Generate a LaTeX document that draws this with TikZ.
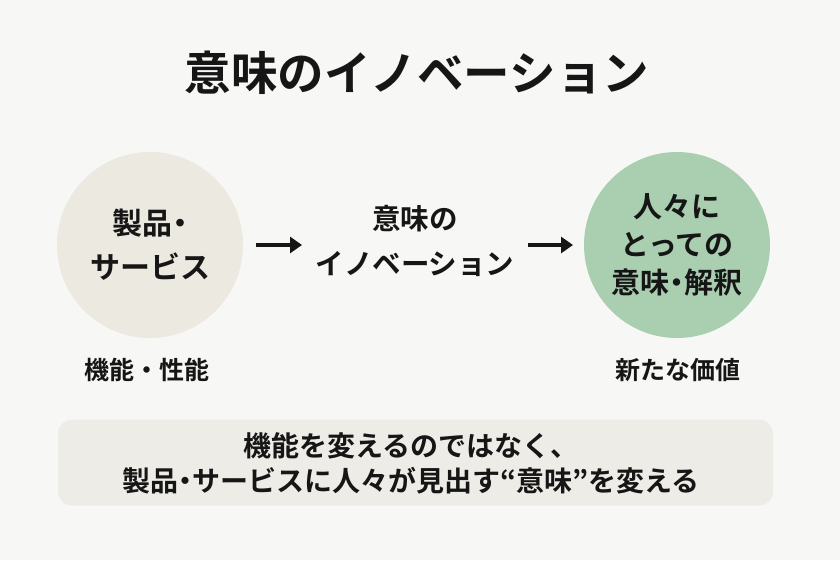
\documentclass[tikz,border=0pt]{standalone}
\usepackage{fontspec}
\setmainfont{Noto Sans CJK JP}[BoldFont={Noto Sans CJK JP Bold}]
\newfontfamily\jpb{Noto Sans CJK JP Bold}
\newfontfamily\jpp{Noto Sans CJK JP Bold}[RawFeature=+palt]
\newcommand{\pr}[1]{{\jpp #1}}
\usetikzlibrary{arrows.meta}
\definecolor{bgc}{HTML}{F7F7F5}
\definecolor{beige}{HTML}{ECE9E1}
\definecolor{greenc}{HTML}{AACFB0}
\definecolor{boxc}{HTML}{EDECE6}
\definecolor{ink}{HTML}{161616}
\begin{document}
\begin{tikzpicture}[x=1pt,y=-1pt,
  every node/.style={text=ink,font=\jpb},
  bubble/.style={circle,minimum size=186pt,inner sep=0pt,align=center},
  flow/.style={line width=4pt,draw=ink,-{Triangle[length=12pt,width=16pt]}},
  caption/.style={font=\jpb\fontsize{25}{30}\selectfont}]
\fill[bgc] (0,0) rectangle (840,560);
\useasboundingbox (0,0) rectangle (840,560);
\node (title) at (417,73) {\fontsize{46.5}{54}\selectfont 意味のイノベーション};
\node[bubble,fill=beige,font=\jpb\fontsize{30}{44}\selectfont] (prod) at (150,245) {製品\pr{・}\\サービス};
\node[bubble,fill=greenc,font=\jpb\fontsize{29}{38}\selectfont] (mean) at (677,245) {人々に\\とっての\\意味\pr{・}解釈};
\node[align=center,font=\jpb\fontsize{28.5}{45}\selectfont] (mid) at (415,241) {意味の\\イノベーション};
\coordinate (a1s) at (256,245);
\coordinate (a1e) at (302,245);
\coordinate (a2s) at (528,245);
\coordinate (a2e) at (573,245);
\draw[flow] (a1s) -- (a1e);
\draw[flow] (a2s) -- (a2e);
\node[caption] (func) at (147,370) {機能・性能};
\node[caption] (val) at (678,370) {新たな価値};
\node[fill=boxc,rounded corners=14pt,minimum width=715pt,minimum height=86pt,inner sep=0pt] (box) at (415.5,462.5) {};
\node[align=center,font=\jpb\fontsize{28}{35}\selectfont] (msg) at (411,463) {機能を変えるのではなく、\\製品\pr{・}サービスに人々が見出す\pr{“}意味\pr{”}を変える};
\end{tikzpicture}
\end{document}
